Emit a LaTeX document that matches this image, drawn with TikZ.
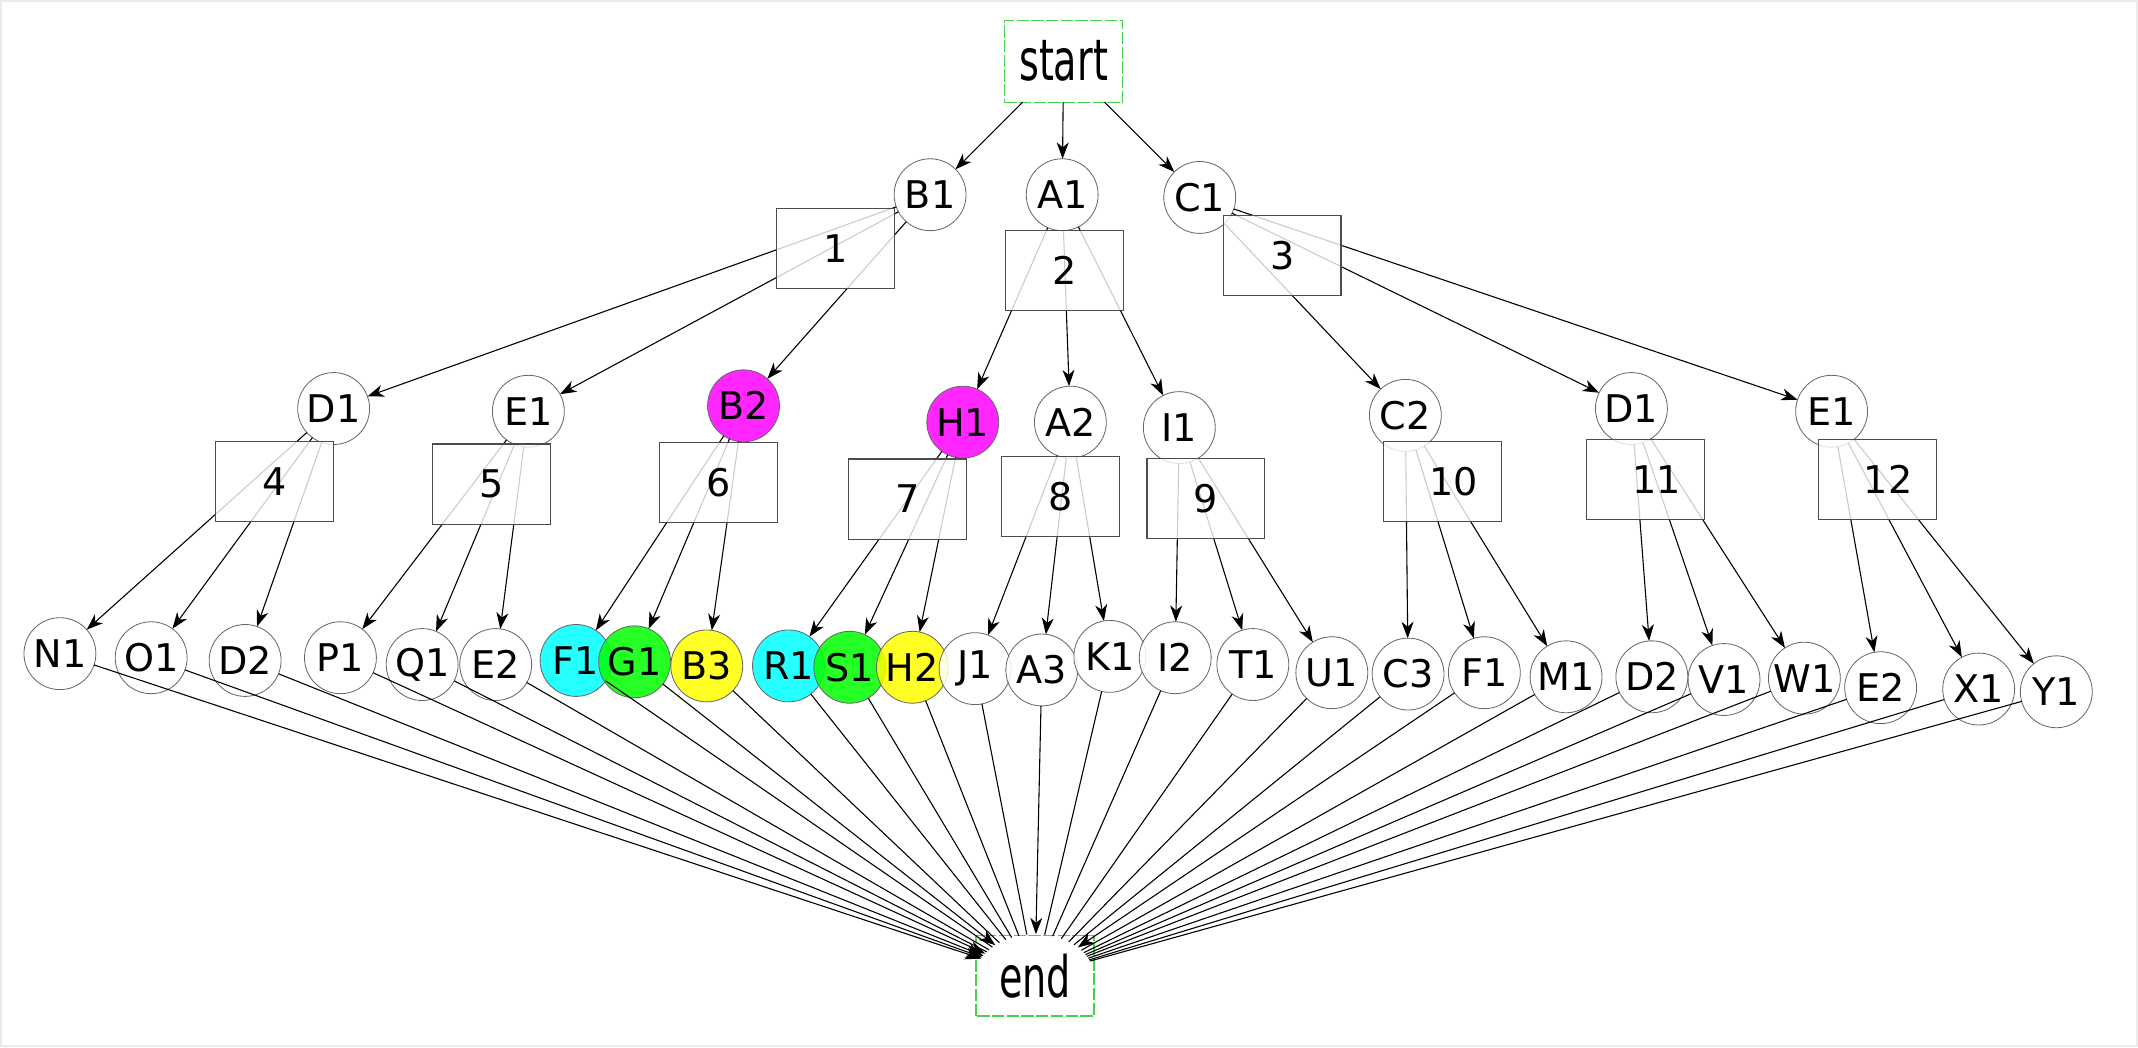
\documentclass[tikz,border=0pt]{standalone}
\usepackage{fontspec}
\setmainfont{DejaVu Sans}
\usepackage{graphicx}
\usetikzlibrary{arrows.meta,shapes.geometric}
\definecolor{cyanf}{RGB}{0,255,255}
\definecolor{greenf}{RGB}{0,255,0}
\definecolor{yellowf}{RGB}{255,255,0}
\definecolor{magf}{RGB}{255,0,255}
\definecolor{dashgreen}{RGB}{70,210,70}
\begin{document}
\begin{tikzpicture}[x=0.5pt,y=-0.5pt,
 every node/.style={font=\fontsize{14}{16}\selectfont, inner sep=0pt, outer sep=0pt},
 vtx/.style={circle, draw=black!60, line width=0.3pt, minimum size=26.4pt, fill=white, fill opacity=0.85, text opacity=1},
 cyanv/.style={vtx, fill=cyanf},
 greenv/.style={vtx, fill=greenf},
 yellowv/.style={vtx, fill=yellowf},
 magv/.style={vtx, fill=magf},
 numbox/.style={rectangle, draw=black!70, line width=0.45pt, minimum width=43.3pt, minimum height=29.4pt, fill=white, fill opacity=0.8, text opacity=1},
 termline/.style={draw=dashgreen, dash pattern=on 4.5pt off 0.9pt, line width=0.45pt},
 term/.style={rectangle, termline, minimum width=43.5pt, minimum height=30pt},
 plainedge/.style={line width=0.4pt, black},
 edge/.style={plainedge, -{Stealth[length=6pt,width=4.4pt,inset=1.8pt]}},
]
\fill[white] (0,0) rectangle (1570,769);
\useasboundingbox (0,0) rectangle (1570,769);
\draw[black!8, line width=0.8pt] (0.8,0.8) rectangle (1569.2,768.2);

% top
\node[term] (start) at (781,45) {\scalebox{1}[1.5]{start}};
\node[vtx] (B1) at (683,143) {B1};
\node[vtx] (A1) at (780,143) {A1};
\node[vtx] (C1) at (881,145) {C1};

% row 2
\node[vtx] (D1a) at (245,300) {D1};
\node[vtx] (E1a) at (388,302) {E1};
\node[magv] (B2) at (546,298) {B2};
\node[magv] (H1) at (707,310) {H1};
\node[vtx] (A2) at (786,310) {A2};
\node[vtx] (I1) at (866,314) {I1};
\node[vtx] (C2) at (1032,305) {C2};
\node[vtx] (D1b) at (1198,300) {D1};
\node[vtx] (E1b) at (1345,302) {E1};

% row 3
\node[vtx] (N1) at (44,480) {N1};
\node[vtx] (O1) at (111,483) {O1};
\node[vtx] (D2a) at (180,485) {D2};
\node[vtx] (P1) at (250,483) {P1};
\node[vtx] (Q1) at (310,488) {Q1};
\node[vtx] (E2a) at (364,488) {E2};
\node[cyanv] (F1a) at (423,485) {F1};
\node[greenv] (G1) at (466,486) {G1};
\node[yellowv] (B3) at (519,489) {B3};
\node[cyanv] (R1) at (579,489) {R1};
\node[greenv] (S1) at (624,490) {S1};
\node[yellowv] (H2) at (670,490) {H2};
\node[vtx] (J1) at (716,491) {J1};
\node[vtx] (A3) at (765,492) {A3};
\node[vtx] (K1) at (815,482) {K1};
\node[vtx] (I2) at (863,483) {I2};
\node[vtx] (T1) at (920,488) {T1};
\node[vtx] (U1) at (978,494) {U1};
\node[vtx] (C3) at (1034,495) {C3};
\node[vtx] (F1b) at (1090,494) {F1};
\node[vtx] (M1) at (1150,497) {M1};
\node[vtx] (D2b) at (1213,497) {D2};
\node[vtx] (V1) at (1266,499) {V1};
\node[vtx] (W1) at (1325,498) {W1};
\node[vtx] (E2b) at (1381,505) {E2};
\node[vtx] (X1) at (1453,506) {X1};
\node[vtx] (Y1) at (1510,508) {Y1};

% end
\node[ellipse, minimum width=43.3pt, minimum height=31pt] (end) at (760,717) {\scalebox{1}[1.5]{end}};
\draw[termline] ([xshift=-21.65pt,yshift=-14.5pt]end.center) rectangle ([xshift=21.65pt,yshift=14.9pt]end.center);

% edges
\foreach \c in {B1,A1,C1} \draw[edge] (start) -- (\c);
\foreach \c in {D1a,E1a,B2} \draw[edge] (B1) -- (\c);
\foreach \c in {H1,A2,I1} \draw[edge] (A1) -- (\c);
\foreach \c in {C2,D1b,E1b} \draw[edge] (C1) -- (\c);
\foreach \c in {N1,O1,D2a} \draw[edge] (D1a) -- (\c);
\foreach \c in {P1,Q1,E2a} \draw[edge] (E1a) -- (\c);
\foreach \c in {F1a,G1,B3} \draw[edge] (B2) -- (\c);
\foreach \c in {R1,S1,H2} \draw[edge] (H1) -- (\c);
\foreach \c in {J1,A3,K1} \draw[edge] (A2) -- (\c);
\foreach \c in {I2,T1,U1} \draw[edge] (I1) -- (\c);
\foreach \c in {C3,F1b,M1} \draw[edge] (C2) -- (\c);
\foreach \c in {D2b,V1,W1} \draw[edge] (D1b) -- (\c);
\foreach \c in {E2b,X1,Y1} \draw[edge] (E1b) -- (\c);
\foreach \c in {N1,O1,D2a,P1,G1,A3,F1b}
  \draw[edge] (\c) -- (end);
\foreach \c in {Q1,E2a,F1a,B3,R1,S1,H2,J1,K1,I2,T1,U1,C3,M1,D2b,V1,W1,E2b,X1,Y1}
  \draw[plainedge] (\c) -- (end);

% boxes (on top, translucent)
\node[numbox] (n1) at (613.5,182.5) {1};
\node[numbox] (n2) at (781.5,198.5) {2};
\node[numbox] (n3) at (941.5,187.5) {3};
\node[numbox] (n4) at (201.5,353.5) {4};
\node[numbox] (n5) at (361,355.5) {5};
\node[numbox] (n6) at (527.5,354.5) {6};
\node[numbox] (n7) at (666.5,366.5) {7};
\node[numbox] (n8) at (778.5,364.5) {8};
\node[numbox] (n9) at (885.5,366) {9};
\node[numbox] (n10) at (1059.5,353.5) {\hspace*{8pt}10};
\node[numbox] (n11) at (1208.5,352) {\hspace*{8pt}11};
\node[numbox] (n12) at (1378.5,352) {\hspace*{8pt}12};
\end{tikzpicture}
\end{document}
